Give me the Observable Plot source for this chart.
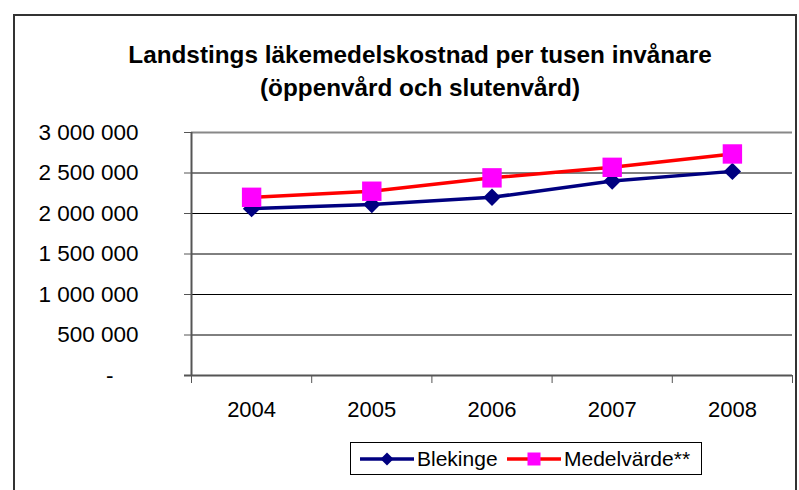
<!DOCTYPE html>
<html>
<head>
<meta charset="utf-8">
<script src="https://cdn.jsdelivr.net/npm/d3@7"></script>
<script src="https://cdn.jsdelivr.net/npm/@observablehq/plot@0.6"></script>
<style>
  body { margin: 0; background: white; }
  #wrap { position: relative; width: 799px; height: 490px; overflow: hidden; background: white;
          font-family: Arial, "Liberation Sans", sans-serif; }
  #frame { position: absolute; left: 13px; top: 14px; width: 784px; height: 500px; border: 2px solid #333; box-sizing: border-box; z-index: 5; pointer-events: none; background: transparent; }
  #title { position: absolute; left: 0; width: 840px; top: 38px; text-align: center; font-weight: bold;
           font-size: 24.3px; line-height: 33px; color: #000; }
  #plot { position: absolute; left: 0; top: 100px; }
  #legend { position: absolute; left: 350px; top: 442px; width: 352px; height: 33px; border: 1px solid #000; box-sizing: border-box; background: white; }
  #legend svg { position: absolute; left: 0; top: 0; }
  .lt { position: absolute; top: 3px; font-size: 21px; line-height: 25px; color: #000; white-space: nowrap; }
</style>
</head>
<body>
<div id="wrap">
  <div id="title">Landstings läkemedelskostnad per tusen invånare<br>(öppenvård och slutenvård)</div>
  <div id="plot"></div>
  <div id="legend"></div>
  <div id="frame"></div>
</div>
<script>
const years = [2004, 2005, 2006, 2007, 2008];
const blekinge = [2060000, 2110000, 2200000, 2400000, 2520000];
const medelvarde = [2200000, 2275000, 2440000, 2570000, 2735000];
const yTicks = [0, 500000, 1000000, 1500000, 2000000, 2500000, 3000000];
const seriesNames = ["Blekinge", "Medelvärde**"];
const seriesColors = ["#000080", "#FF0000"];
const markerColors = ["#000080", "#FF00FF"];

const rowsB = years.map((year, i) => ({year, value: blekinge[i], series: seriesNames[0]}));
const rowsM = years.map((year, i) => ({year, value: medelvarde[i], series: seriesNames[1]}));
const boundaries = [...years.map(y => y - 0.5), years[years.length - 1] + 0.5];

const diamondSym = {draw(ctx, size) { const r = Math.sqrt(size / Math.PI); ctx.moveTo(0, -r); ctx.lineTo(r, 0); ctx.lineTo(0, r); ctx.lineTo(-r, 0); ctx.closePath(); }};
const squareSym = {draw(ctx, size) { const r = Math.sqrt(size / Math.PI); ctx.rect(-r, -r, 2 * r, 2 * r); }};

const fmt = v => v === 0 ? "-\u2007\u2007" : d3.format(",")(v).replace(/,/g, " ");

const chart = Plot.plot({
  width: 799,
  height: 330,
  marginLeft: 191,
  marginRight: 7,
  marginTop: 32,
  marginBottom: 55,
  style: {fontFamily: "Arial, 'Liberation Sans', sans-serif", fontSize: "22px", color: "#000", background: "transparent", overflow: "visible"},
  x: {type: "linear", domain: [boundaries[0], boundaries[boundaries.length - 1]], label: null},
  y: {domain: [0, 3000000], label: null},
  marks: [
    Plot.gridY(yTicks.slice(1, -1), {stroke: "#000", strokeOpacity: 1, strokeWidth: 1}),
    Plot.ruleY([yTicks[yTicks.length - 1]], {stroke: "#888", strokeWidth: 2}),
    Plot.axisY({ticks: yTicks, tickSize: 7, tickPadding: 46, tickFormat: fmt, fontSize: 22.5, stroke: "#555"}),
    Plot.axisX({ticks: boundaries, tickSize: 8, tickFormat: () => "", stroke: "#555"}),
    Plot.axisX({ticks: years, tickSize: 0, tickPadding: 26, tickFormat: d => String(d), fontSize: 22}),
    Plot.ruleX([boundaries[0]], {stroke: "#555", strokeWidth: 2}),
    Plot.ruleY([0], {stroke: "#555", strokeWidth: 2, insetLeft: -7}),
    Plot.line(rowsB, {x: "year", y: "value", stroke: seriesColors[0], strokeWidth: 3.5}),
    Plot.dot(rowsB, {x: "year", y: "value", symbol: diamondSym, r: 8.7, fill: markerColors[0], stroke: "none"}),
    Plot.line(rowsM, {x: "year", y: "value", stroke: seriesColors[1], strokeWidth: 3.5}),
    Plot.dot(rowsM, {x: "year", y: "value", symbol: squareSym, r: 9.7, fill: markerColors[1], stroke: "none"})
  ]
});
document.getElementById("plot").appendChild(chart);

// Legend
const legend = document.getElementById("legend");
const lsvg = d3.create("svg").attr("width", 352).attr("height", 33);
const items = [
  {name: seriesNames[0], color: seriesColors[0], marker: markerColors[0], sym: "diamond", x0: 9, textX: 66},
  {name: seriesNames[1], color: seriesColors[1], marker: markerColors[1], sym: "square", x0: 156, textX: 213}
];
items.forEach(it => {
  lsvg.append("line").attr("x1", it.x0).attr("x2", it.x0 + 54).attr("y1", 16).attr("y2", 16)
    .attr("stroke", it.color).attr("stroke-width", 3.5);
  const cx = it.x0 + 27, cy = 16;
  if (it.sym === "diamond") {
    lsvg.append("path").attr("d", `M${cx},${cy - 6.5}L${cx + 6.5},${cy}L${cx},${cy + 6.5}L${cx - 6.5},${cy}Z`).attr("fill", it.marker);
  } else {
    lsvg.append("rect").attr("x", cx - 6.5).attr("y", cy - 6.5).attr("width", 13).attr("height", 13).attr("fill", it.marker);
  }
  const t = document.createElement("div");
  t.className = "lt";
  t.style.left = it.textX + "px";
  t.textContent = it.name;
  legend.appendChild(t);
});
legend.insertBefore(lsvg.node(), legend.firstChild);
</script>
</body>
</html>
